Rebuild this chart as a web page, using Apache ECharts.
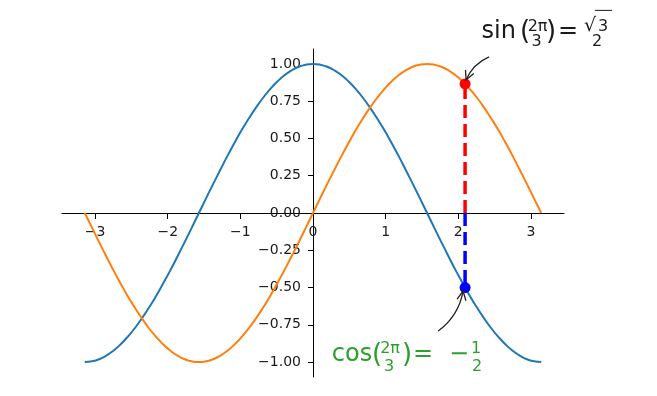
<!DOCTYPE html>
<html>
<head>
<meta charset="utf-8">
<script src="https://cdn.jsdelivr.net/npm/echarts@6/dist/echarts.min.js"></script>
<style>
html,body{margin:0;padding:0;background:#fff;}
#chart{width:657px;height:396px;}
</style>
</head>
<body>
<div id="chart"></div>
<script>
// ---- data ----
const xValues = [-3.142, -3.043, -2.945, -2.847, -2.749, -2.651, -2.553, -2.454, -2.356, -2.258, -2.160, -2.062, -1.963, -1.865, -1.767, -1.669, -1.571, -1.473, -1.374, -1.276, -1.178, -1.080, -0.982, -0.884, -0.785, -0.687, -0.589, -0.491, -0.393, -0.295, -0.196, -0.098, 0, 0.098, 0.196, 0.295, 0.393, 0.491, 0.589, 0.687, 0.785, 0.884, 0.982, 1.080, 1.178, 1.276, 1.374, 1.473, 1.571, 1.669, 1.767, 1.865, 1.963, 2.062, 2.160, 2.258, 2.356, 2.454, 2.553, 2.651, 2.749, 2.847, 2.945, 3.043, 3.142];
const cosValues = [-1, -0.995, -0.981, -0.957, -0.924, -0.882, -0.831, -0.773, -0.707, -0.634, -0.556, -0.471, -0.383, -0.290, -0.195, -0.098, 0, 0.098, 0.195, 0.290, 0.383, 0.471, 0.556, 0.634, 0.707, 0.773, 0.831, 0.882, 0.924, 0.957, 0.981, 0.995, 1, 0.995, 0.981, 0.957, 0.924, 0.882, 0.831, 0.773, 0.707, 0.634, 0.556, 0.471, 0.383, 0.290, 0.195, 0.098, 0, -0.098, -0.195, -0.290, -0.383, -0.471, -0.556, -0.634, -0.707, -0.773, -0.831, -0.882, -0.924, -0.957, -0.981, -0.995, -1];
const sinValues = [0, -0.098, -0.195, -0.290, -0.383, -0.471, -0.556, -0.634, -0.707, -0.773, -0.831, -0.882, -0.924, -0.957, -0.981, -0.995, -1, -0.995, -0.981, -0.957, -0.924, -0.882, -0.831, -0.773, -0.707, -0.634, -0.556, -0.471, -0.383, -0.290, -0.195, -0.098, 0, 0.098, 0.195, 0.290, 0.383, 0.471, 0.556, 0.634, 0.707, 0.773, 0.831, 0.882, 0.924, 0.957, 0.981, 0.995, 1, 0.995, 0.981, 0.957, 0.924, 0.882, 0.831, 0.773, 0.707, 0.634, 0.556, 0.471, 0.383, 0.290, 0.195, 0.098, 0];
const xTicks = [-3, -2, -1, 0, 1, 2, 3];
const yTicks = [-1, -0.75, -0.5, -0.25, 0, 0.25, 0.5, 0.75, 1];
const xRange = [-3.456, 3.456];
const yRange = [-1.1, 1.1];
const markX = 2.094;        // 2π/3
const markSin = 0.866;      // √3/2
const markCos = -0.5;
const sinLabelParts = ['sin', '(', '2π', '3', ')', '=', '√', '3', '2'];
const cosLabelParts = ['cos', '(', '2π', '3', ')', '=', '−', '1', '2'];

// ---- build ----
const cosData = xValues.map((x, i) => [x, cosValues[i]]);
const sinData = xValues.map((x, i) => [x, sinValues[i]]);
const minus = s => String(s).replace('-', '\u2212');
const FONT = '"DejaVu Sans", sans-serif';

const W = 657, H = 396;
const G = { left: 62, right: 93, top: 49, bottom: 19 };
const gridW = W - G.left - G.right, gridH = H - G.top - G.bottom;
// move the spines to the data origin (matplotlib set_position(('data',0)))
const xAxisOffset = -gridH * (0 - yRange[0]) / (yRange[1] - yRange[0]);
const yAxisOffset = -gridW * (0 - xRange[0]) / (xRange[1] - xRange[0]);

function txt(str, x, baseY, size, color, align) {
  return {
    type: 'text', silent: true,
    style: {
      text: str, x: x, y: baseY - 0.35 * size,
      font: size + 'px ' + FONT, fill: color,
      align: align || 'left', verticalAlign: 'middle'
    }
  };
}
function arrow(ax, ay, bx, by, rad, color) {
  const dx = bx - ax, dyUp = -(by - ay);
  const mx = (ax + bx) / 2, my = (ay + by) / 2;
  const cx = mx + rad * dyUp, cy = my + rad * dx;
  const tx = bx - cx, ty = by - cy, len = Math.hypot(tx, ty);
  const ux = tx / len, uy = ty / len;
  const hl = 9, hw = 4.5;
  const baseX = bx - ux * hl, baseY = by - uy * hl;
  return [
    { type: 'bezierCurve', silent: true,
      shape: { x1: ax, y1: ay, x2: bx, y2: by, cpx1: cx, cpy1: cy },
      style: { stroke: color, lineWidth: 1.3, fill: null } },
    { type: 'polyline', silent: true,
      shape: { points: [[baseX - uy * hw, baseY + ux * hw], [bx, by], [baseX + uy * hw, baseY - ux * hw]] },
      style: { stroke: color, lineWidth: 1.3, fill: null } }
  ];
}

function renderAnnotation(params, api) {
  const p = api.coord([api.value(0), api.value(1)]);
  const X = p[0], Y = p[1];
  const kids = [];
  if (params.dataIndex === 0) {
    const c = '#1a1a1a', s = sinLabelParts;
    kids.push(txt(s[0], X + 16.5, Y - 44, 24, c));
    kids.push(txt(s[1], X + 55, Y - 42.5, 26, c));
    kids.push(txt(s[2], X + 72.5, Y - 51, 16, c, 'center'));
    kids.push(txt(s[3], X + 71.5, Y - 36, 16, c, 'center'));
    kids.push(txt(s[4], X + 81, Y - 42.5, 26, c));
    kids.push(txt(s[5], X + 93, Y - 44, 24, c));
    kids.push(txt(s[6], X + 119, Y - 51, 19, c));
    kids.push(txt(s[7], X + 133, Y - 51, 16, c));
    kids.push({ type: 'line', silent: true,
      shape: { x1: X + 130, y1: Y - 73.5, x2: X + 147, y2: Y - 73.5 },
      style: { stroke: c, lineWidth: 1 } });
    kids.push(txt(s[8], X + 132, Y - 36, 16, c, 'center'));
    arrow(X + 24, Y - 27, X + 1, Y - 4, 0.2, '#222').forEach(e => kids.push(e));
  } else {
    const c = '#2ca02c', s = cosLabelParts;
    kids.push(txt(s[0], X - 133.3, Y + 75.5, 24, c));
    kids.push(txt(s[1], X - 93, Y + 77, 26, c));
    kids.push(txt(s[2], X - 75, Y + 66.5, 16, c, 'center'));
    kids.push(txt(s[3], X - 76, Y + 84.5, 16, c, 'center'));
    kids.push(txt(s[4], X - 63, Y + 77, 26, c));
    kids.push(txt(s[5], X - 52, Y + 75.5, 24, c));
    kids.push(txt(s[6], X - 16, Y + 75.5, 24, c));
    kids.push(txt(s[7], X + 11, Y + 66.5, 16, c, 'center'));
    kids.push(txt(s[8], X + 12, Y + 84.5, 16, c, 'center'));
    arrow(X - 27, Y + 43.5, X - 2, Y + 3.5, 0.2, '#222').forEach(e => kids.push(e));
  }
  return { type: 'group', children: kids };
}

const chart = echarts.init(document.getElementById('chart'), null, { renderer: 'canvas' });
chart.setOption({
  animation: false,
  backgroundColor: '#fff',
  grid: { left: G.left, right: G.right, top: G.top, bottom: G.bottom, containLabel: false },
  xAxis: {
    type: 'value', min: xRange[0], max: xRange[1], position: 'bottom', offset: xAxisOffset,
    splitLine: { show: false },
    axisLine: { show: true, onZero: false, lineStyle: { color: '#000', width: 1 } },
    axisTick: { show: true, customValues: xTicks, length: 6, lineStyle: { color: '#000', width: 1 } },
    axisLabel: { customValues: xTicks, formatter: v => minus(v), fontFamily: FONT, fontSize: 14, color: '#1a1a1a', margin: 12 }
  },
  yAxis: {
    type: 'value', min: yRange[0], max: yRange[1], position: 'left', offset: yAxisOffset,
    splitLine: { show: false },
    axisLine: { show: true, onZero: false, lineStyle: { color: '#000', width: 1 } },
    axisTick: { show: true, customValues: yTicks, length: 5, lineStyle: { color: '#000', width: 1 } },
    axisLabel: { customValues: yTicks, formatter: v => minus(v.toFixed(2)), fontFamily: FONT, fontSize: 14, color: '#1a1a1a', margin: 12 }
  },
  series: [
    { type: 'line', data: cosData, showSymbol: false, smooth: true, color: '#1f77b4', lineStyle: { width: 2, color: '#1f77b4' }, z: 2 },
    { type: 'line', data: sinData, showSymbol: false, smooth: true, color: '#ff7f0e', lineStyle: { width: 2, color: '#ff7f0e' }, z: 2 },
    { type: 'line', data: [[markX, 0], [markX, markCos]], showSymbol: false, lineStyle: { width: 3.5, color: 'blue', type: [13, 6] }, z: 3 },
    { type: 'line', data: [[markX, 0], [markX, markSin]], showSymbol: false, lineStyle: { width: 3.5, color: 'red', type: [13, 6] }, z: 3 },
    { type: 'scatter', data: [[markX, markCos]], symbolSize: 11, itemStyle: { color: 'blue', opacity: 1 }, z: 4 },
    { type: 'scatter', data: [[markX, markSin]], symbolSize: 11, itemStyle: { color: 'red', opacity: 1 }, z: 4 },
    { type: 'custom', data: [[markX, markSin], [markX, markCos]], renderItem: renderAnnotation, clip: false, silent: true, z: 5 }
  ]
});
</script>
</body>
</html>
